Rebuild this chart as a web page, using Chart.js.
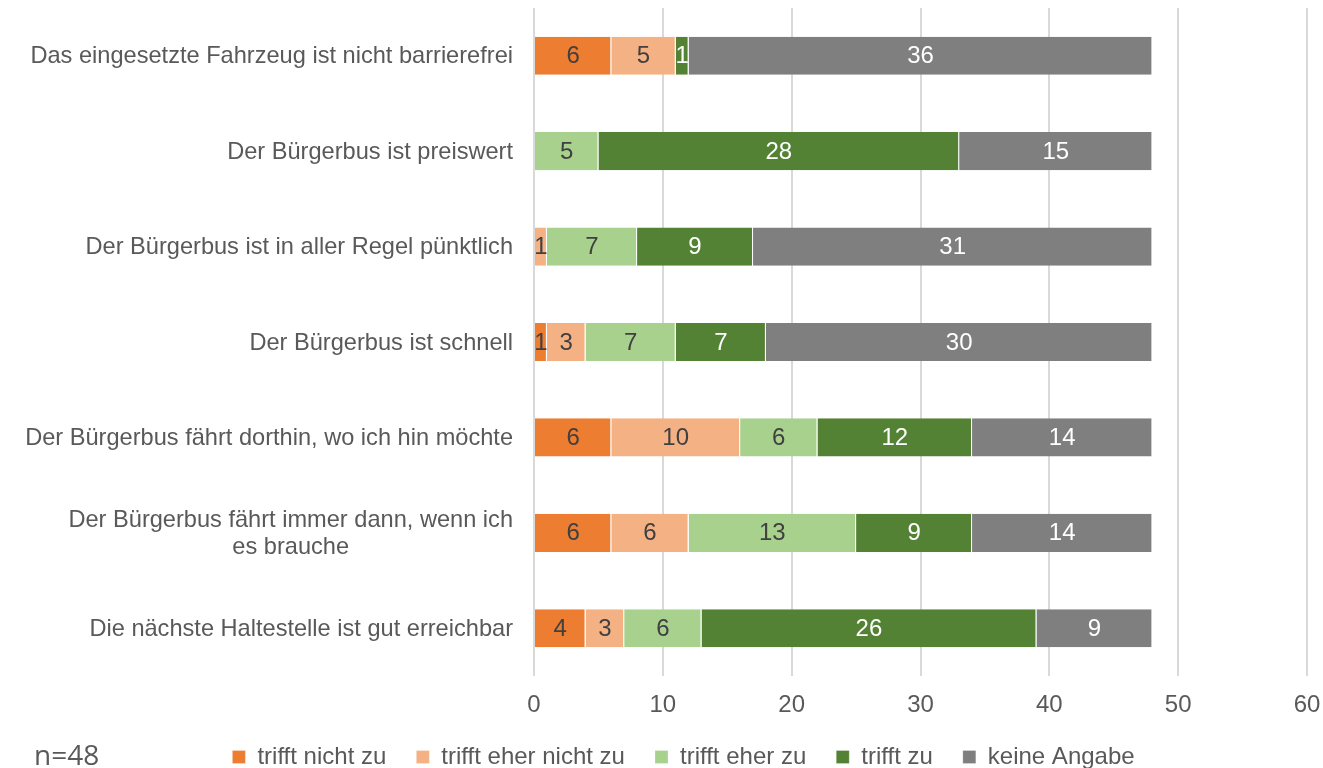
<!DOCTYPE html>
<html>
<head>
<meta charset="utf-8">
<script src="https://cdn.jsdelivr.net/npm/chart.js@4"></script>
<style>
	html, body { margin: 0; padding: 0; background: #fff; }
	#wrap { position: relative; width: 1323px; height: 768px; }
</style>
</head>
<body>
<div id="wrap"><canvas id="bars"></canvas></div>
<script>
// survey answers, one array per answer option (n=48)
const categories = [
	"Das eingesetzte Fahrzeug ist nicht barrierefrei",
	"Der Bürgerbus ist preiswert",
	"Der Bürgerbus ist in aller Regel pünktlich",
	"Der Bürgerbus ist schnell",
	"Der Bürgerbus fährt dorthin, wo ich hin möchte",
	["Der Bürgerbus fährt immer dann, wenn ich", "es brauche"],
	"Die nächste Haltestelle ist gut erreichbar"
];
const trifft_nicht_zu = [6, 0, 0, 1, 6, 6, 4];
const trifft_eher_nicht_zu = [5, 0, 1, 3, 10, 6, 3];
const trifft_eher_zu = [0, 5, 7, 7, 6, 13, 6];
const trifft_zu = [1, 28, 9, 7, 12, 9, 26];
const keine_angabe = [36, 15, 31, 30, 14, 14, 9];
const x_ticks = [0, 10, 20, 30, 40, 50, 60];
const sample_note = "n=48";

const text_color = "#595959";
const font_family = "'Liberation Sans', Arial, sans-serif";
const font_size = 24;

function series(label, data, color, label_color) {
	return {
		label: label,
		data: data,
		backgroundColor: color,
		borderColor: "#ffffff",
		borderWidth: {left: 0, right: 1, top: 0, bottom: 0},
		borderSkipped: false,
		barPercentage: 0.4,
		categoryPercentage: 1.0,
		label_color: label_color
	};
}

// numbers inside the bar segments
const value_labels = {
	id: "value_labels",
	afterDatasetsDraw(chart) {
		const ctx = chart.ctx;
		ctx.save();
		ctx.font = font_size + "px " + font_family;
		ctx.textAlign = "center";
		ctx.textBaseline = "middle";
		chart.data.datasets.forEach((ds, i) => {
			const meta = chart.getDatasetMeta(i);
			meta.data.forEach((bar, j) => {
				const v = ds.data[j];
				if (!v) return;
				ctx.fillStyle = ds.label_color;
				ctx.fillText(String(v), (bar.x + bar.base) / 2, bar.y + 1);
			});
		});
		ctx.restore();
	}
};

// category labels: right aligned, wrapped ones centred on their own block
const cat_labels = {
	id: "cat_labels",
	afterDraw(chart) {
		const ctx = chart.ctx;
		const y_scale = chart.scales.y;
		const right = chart.chartArea.left - 21;
		const line_h = 27;
		ctx.save();
		ctx.font = "23.6px " + font_family;
		ctx.fillStyle = text_color;
		ctx.textBaseline = "middle";
		categories.forEach((lab, i) => {
			const y = y_scale.getPixelForValue(i);
			const lines = Array.isArray(lab) ? lab : [lab];
			const w = Math.max(...lines.map(l => ctx.measureText(l).width));
			const y0 = y - (lines.length - 1) * line_h / 2;
			ctx.textAlign = lines.length > 1 ? "center" : "right";
			const x = lines.length > 1 ? right - w / 2 : right;
			lines.forEach((l, k) => ctx.fillText(l, x, y0 + k * line_h + 1));
		});
		ctx.font = "28px 'Open Sans', sans-serif";
		ctx.textAlign = "left";
		ctx.fillText(sample_note, 34, 757);
		ctx.restore();
	}
};

// squeeze the legend box and nudge it to the reference spot
const legend_fit = {
	id: "legend_fit",
	beforeInit(chart) {
		const orig = chart.legend.fit;
		chart.legend.fit = function () {
			orig.bind(chart.legend)();
			this.height = 27;
		};
	},
	afterLayout(chart) {
		const lg = chart.legend;
		lg.top = 715;
		lg.bottom = 768;
		lg.height = 53;
		lg.left += 30;
		lg.right += 30;
	}
};

const bars_ctx = document.getElementById("bars");
const bars_chart = new Chart(bars_ctx, {
	type: "bar",
	data: {
		labels: categories.map(c => Array.isArray(c) ? c.join(" ") : c),
		datasets: [
			series("trifft nicht zu", trifft_nicht_zu, "#ED7D31", "#404040"),
			series("trifft eher nicht zu", trifft_eher_nicht_zu, "#F4B183", "#404040"),
			series("trifft eher zu", trifft_eher_zu, "#A9D18E", "#404040"),
			series("trifft zu", trifft_zu, "#548235", "#ffffff"),
			series("keine Angabe", keine_angabe, "#7F7F7F", "#ffffff")
		]
	},
	options: {
		indexAxis: "y",
		responsive: true,
		maintainAspectRatio: false,
		animation: false,
		layout: {padding: {top: 8, right: 16, bottom: 0, left: 0}},
		scales: {
			x: {
				stacked: true,
				min: 0,
				max: 60,
				afterBuildTicks: (s) => { s.ticks = x_ticks.map(v => ({value: v})); },
				afterFit: (s) => { s.height = 65; s.paddingLeft = 0; s.paddingRight = 0; },
				grid: {color: "#d9d9d9", lineWidth: 2, drawTicks: false},
				border: {display: false},
				ticks: {
					color: text_color,
					padding: 15,
					maxRotation: 0,
					font: {family: font_family, size: font_size}
				}
			},
			y: {
				stacked: true,
				afterFit: (s) => { s.width = 534; s.paddingTop = 0; s.paddingBottom = 0; },
				grid: {display: false, drawTicks: false},
				border: {display: false},
				ticks: {display: false}
			}
		},
		plugins: {
			legend: {
				position: "bottom",
				labels: {
					color: text_color,
					boxWidth: 13,
					boxHeight: 13,
					padding: 30,
					font: {family: font_family, size: font_size}
				}
			},
			tooltip: {enabled: false}
		}
	},
	plugins: [value_labels, cat_labels, legend_fit]
});
</script>
</body>
</html>
